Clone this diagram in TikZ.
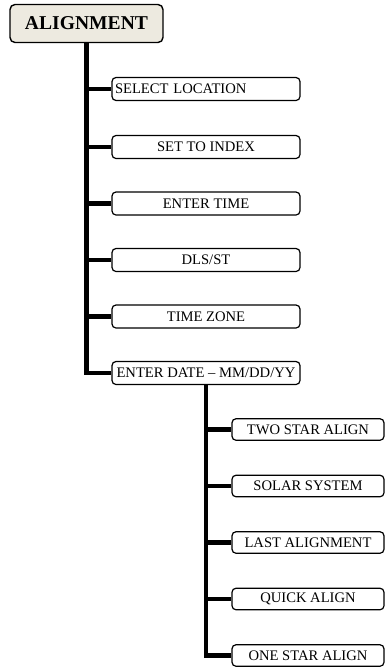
\documentclass[tikz,border=0pt]{standalone}
\usepackage{fontspec}
\setmainfont{Liberation Serif}
\definecolor{rootbeige}{RGB}{237, 234, 224}
\usetikzlibrary{positioning, calc}

\begin{document}
\begin{tikzpicture}[x=1pt, y=-1pt,
    rootbox/.style={draw, line width=1.4pt, rounded corners=5pt, fill=rootbeige, minimum width=153pt, minimum height=38pt, inner sep=1pt, font=\fontsize{19.6}{21}\selectfont\bfseries},
    menubox/.style={draw, line width=1.2pt, rounded corners=4pt, fill=white, minimum width=188pt, minimum height=23pt, inner sep=1pt, font=\fontsize{14.6}{16}\selectfont},
    subbox/.style={menubox, minimum width=152pt, minimum height=21.5pt},
    branch/.style={line width=4.5pt}]
  \useasboundingbox (0, 0) rectangle (385, 667);

  % Top menu
  \node[rootbox] (align) at (86.5, 23.5) {ALIGNMENT};

  % First level
  \node[menubox, text width=182pt, align=left, inner xsep=3pt] (selloc) at (206, 89) {SELECT LOCATION};
  \node[menubox] (setidx) at (206, 147) {SET TO INDEX};
  \node[menubox] (entime) at (206, 203.5) {ENTER TIME};
  \node[menubox] (dlsst) at (206, 260) {DLS/ST};
  \node[menubox] (tzone) at (206, 316.5) {TIME ZONE};
  \node[menubox] (endate) at (206, 373) {ENTER DATE -- MM/DD/YY};

  % Second level
  \node[subbox] (twostar) at (308, 429.5) {TWO STAR ALIGN};
  \node[subbox] (solsys) at (308, 486) {SOLAR SYSTEM};
  \node[subbox] (lastal) at (308, 542.5) {LAST ALIGNMENT};
  \node[subbox] (quick) at (308, 599) {QUICK ALIGN};
  \node[subbox] (onestar) at (308, 655.5) {ONE STAR ALIGN};

  % Trunks
  \draw[branch] (align.south) |- (endate.west);
  \draw[branch] (endate.south) |- (onestar.west);

  % Branches
  \foreach \n in {selloc, setidx, entime, dlsst, tzone}
    \draw[branch] (align.south |- \n.west) -- (\n.west);
  \foreach \n in {twostar, solsys, lastal, quick}
    \draw[branch] (endate.south |- \n.west) -- (\n.west);
\end{tikzpicture}
\end{document}
